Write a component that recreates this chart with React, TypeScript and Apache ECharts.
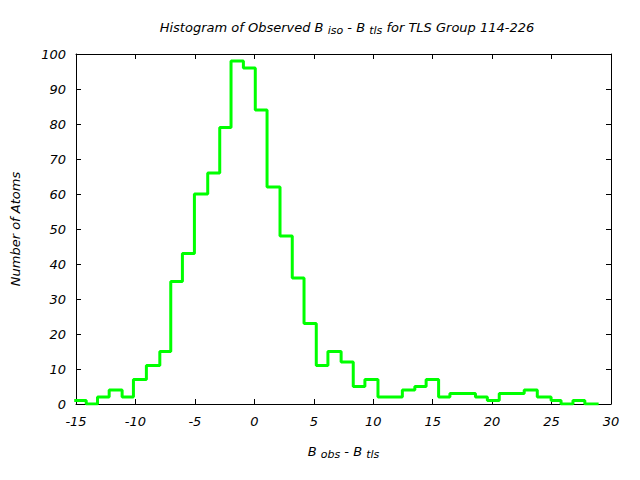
import React, { useEffect, useRef } from "react";
import * as echarts from "echarts";

// Histogram bin edges (x) and counts
const binEdges = [
  -15.15, -14.14, -13.19, -12.21, -11.12, -10.17, -9.08, -7.95, -7.03, -6.05,
  -5.04, -3.92, -2.91, -1.96, -0.92, 0.08, 1.07, 2.16, 3.19, 4.18,
  5.21, 6.19, 7.3, 8.32, 9.3, 10.4, 11.45, 12.45, 13.5, 14.45,
  15.5, 16.45, 17.5, 18.6, 19.6, 20.6, 21.65, 22.7, 23.8, 24.96,
  25.8, 26.8, 27.8, 28.96,
];
const binCounts = [
  1, 0, 2, 4, 2, 7, 11, 15, 35, 43,
  60, 66, 79, 98, 96, 84, 62, 48, 36, 23,
  11, 15, 12, 5, 7, 2, 2, 4, 5, 7,
  2, 3, 3, 2, 1, 3, 3, 4, 2, 1,
  0, 1, 0,
];

const xMin = -15;
const xMax = 30;
const xStep = 5;
const yMin = 0;
const yMax = 100;
const yStep = 10;

const titleText = "Histogram of Observed B {sub|iso} - B {sub|tls} for TLS Group 114-226";
const xName = "B {sub|obs} - B {sub|tls}";
const yName = "Number of Atoms";

const FONT = "DejaVu Sans";

export default function App() {
  const ref = useRef<HTMLDivElement>(null);
  useEffect(() => {
    if (!ref.current) return;
    const chart = echarts.init(ref.current, null, { renderer: "svg" });
    const pts: number[][] = binCounts.map((c, i) => [binEdges[i], c]);
    pts.push([binEdges[binEdges.length - 1], binCounts[binCounts.length - 1]]);

    const labelStyle = { fontFamily: FONT, fontStyle: "italic" as const, fontSize: 13, color: "#000" };
    const richSub = {
      sub: { fontFamily: FONT, fontStyle: "italic" as const, fontSize: 11, color: "#000", padding: [7, 0, 0, 0] },
    };
    const axisLine = { show: true, onZero: false, lineStyle: { color: "#000", width: 1 } };
    const tick = { show: true, inside: true, length: 5, lineStyle: { color: "#000", width: 1 } };

    chart.setOption({
      animation: false,
      backgroundColor: "#fff",
      title: {
        text: titleText,
        left: 342,
        top: 13,
        textAlign: "center",
        textStyle: {
          fontFamily: FONT, fontStyle: "italic", fontWeight: "normal", fontSize: 13, color: "#000",
          rich: richSub,
        },
      },
      grid: { left: 76, right: 29, top: 54, bottom: 76, show: false },
      xAxis: [
        {
          type: "value", min: xMin, max: xMax, interval: xStep, position: "bottom",
          axisLine, axisTick: tick, splitLine: { show: false },
          axisLabel: { ...labelStyle, margin: 11 },
          name: xName, nameLocation: "middle", nameGap: 38,
          nameTextStyle: { ...labelStyle, rich: richSub },
        },
        {
          type: "value", min: xMin, max: xMax, interval: xStep, position: "top",
          axisLine, axisTick: tick, splitLine: { show: false }, axisLabel: { show: false },
        },
      ],
      yAxis: [
        {
          type: "value", min: yMin, max: yMax, interval: yStep, position: "left",
          axisLine, axisTick: tick, splitLine: { show: false },
          axisLabel: { ...labelStyle, margin: 10 },
          name: yName, nameLocation: "middle", nameGap: 54,
          nameTextStyle: labelStyle,
        },
        {
          type: "value", min: yMin, max: yMax, interval: yStep, position: "right",
          axisLine, axisTick: tick, splitLine: { show: false }, axisLabel: { show: false },
        },
      ],
      series: [
        {
          type: "line",
          step: "end",
          data: pts,
          symbol: "none",
          clip: true,
          lineStyle: { color: "#00ff00", width: 3 },
          z: 1,
        },
      ],
    });
    return () => chart.dispose();
  }, []);
  return (
    <div
      ref={ref}
      style={{ position: "fixed", left: 0, top: 0, width: 640, height: 480, background: "#fff" }}
    />
  );
}
